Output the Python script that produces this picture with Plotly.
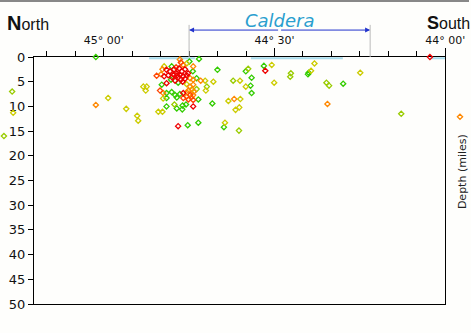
import plotly.graph_objects as go

# Earthquake hypocentres: latitude (deg N), depth (miles), colour class
lat = [45.023, 45.268, 45.265, 45.292, 45.023, 44.987, 44.934, 44.902, 44.899,
       44.721, 44.749, 44.757, 44.774, 44.767, 44.738, 44.801, 44.823, 44.828, 44.816,
       44.788, 44.779, 44.739, 44.845, 44.832, 44.823, 44.811, 44.796, 44.786, 44.777,
       44.767, 44.757, 44.747, 44.738, 44.728, 44.716, 44.803, 44.791, 44.782, 44.769,
       44.757, 44.747, 44.738, 44.830, 44.816, 44.884, 44.874, 44.877, 44.835, 44.826,
       44.816, 44.801, 44.791, 44.777, 44.767, 44.752, 44.742, 44.728, 44.757, 44.747,
       44.738, 44.767, 44.816, 44.786, 44.738, 44.752, 44.826, 44.723, 44.816, 44.793,
       44.769, 44.759, 44.770, 44.786, 44.738, 44.840, 44.828, 44.782, 44.754, 44.723,
       44.667, 44.703, 44.679, 44.698, 44.701, 44.682, 44.621, 44.601, 44.635, 44.618,
       44.600, 44.614, 44.603, 44.584, 44.577, 44.567, 44.584, 44.570, 44.567, 44.531,
       44.527, 44.508, 44.501, 44.452, 44.454, 44.400, 44.393, 44.383, 44.645, 44.648,
       44.604, 44.348, 44.340, 44.299, 44.249, 44.345, 44.129, 44.045, 43.957, 44.402,
       44.806, 44.794, 44.782, 44.771, 44.762, 44.800, 44.753, 44.774, 44.785, 44.762,
       44.756, 44.744, 44.736, 44.777]
depth = [0.0, 7.0, 11.3, 16.0, 9.7, 8.3, 10.5, 11.9, 12.9,
         0.4, 0.9, 1.3, 1.1, 1.6, 1.9, 1.9, 1.9, 2.5, 2.6,
         2.1, 2.3, 2.9, 3.8, 3.5, 3.9, 3.7, 3.6, 3.3, 3.6,
         3.9, 3.7, 4.3, 4.6, 4.3, 4.8, 4.6, 4.8, 5.2, 5.0,
         5.5, 6.0, 5.6, 5.6, 5.3, 6.0, 6.0, 6.8, 6.8, 7.3,
         7.3, 7.1, 7.7, 7.5, 7.3, 6.8, 6.6, 6.5, 8.0, 7.7,
         7.7, 8.3, 8.3, 8.2, 8.7, 8.6, 8.4, 8.6, 10.0, 9.6,
         9.8, 9.6, 10.6, 10.4, 10.0, 11.1, 11.1, 14.0, 13.8, 13.3,
         2.6, 4.8, 5.0, 6.0, 6.8, 9.4, 4.8, 4.8, 8.9, 8.5,
         8.5, 10.7, 10.2, 2.9, 2.4, 4.2, 6.0, 5.8, 7.3, 1.8,
         2.8, 1.6, 5.2, 3.3, 4.0, 3.2, 2.8, 1.3, 13.3, 14.2,
         14.9, 5.2, 5.8, 5.4, 3.2, 9.5, 11.5, 0.0, 12.1, 3.5,
         2.9, 2.5, 4.1, 2.9, 4.4, 4.1, 3.3, 4.6, 3.7, 2.5,
         7.2, 8.2, 7.0, 0.5]
cls = ["G", "YG", "Y", "YG", "O", "Y", "Y", "Y", "Y",
       "G", "G", "Y", "OR", "O", "O", "G", "Y", "O", "R",
       "OR", "R", "G", "OR", "O", "R", "R", "R", "R", "R",
       "R", "R", "O", "O", "G", "O", "G", "R", "G", "R",
       "Y", "O", "O", "G", "R", "Y", "Y", "Y", "OR", "O",
       "G", "G", "G", "G", "R", "O", "Y", "YG", "O", "OR",
       "O", "OR", "G", "G", "OR", "OR", "Y", "G", "G", "YG",
       "G", "G", "G", "G", "R", "Y", "Y", "R", "G", "G",
       "G", "Y", "Y", "YG", "Y", "G", "YG", "Y", "Y", "O",
       "Y", "Y", "Y", "G", "YG", "G", "Y", "G", "G", "G",
       "R", "Y", "Y", "YG", "YG", "G", "Y", "Y", "Y", "G",
       "YG", "YG", "YG", "G", "Y", "O", "YG", "R", "O", "G",
       "R", "R", "R", "R", "R", "R", "R", "R", "R", "R",
       "O", "O", "O", "O"]

class_order = ["G", "YG", "Y", "O", "OR", "R"]
class_colors = {"G": "#33cc00", "YG": "#99cc00", "Y": "#cccc00",
                "O": "#ff8800", "OR": "#ff4400", "R": "#ee0000"}

# Lake surface segments (latitude) drawn at depth 0
lake_lat = [44.867, 44.733, None, 44.569, 44.300, None, 44.045, 44.0]
lake_depth = [0.25, 0.25, None, 0.25, 0.25, None, 0.25, 0.25]

caldera_north = 44.75
caldera_south = 44.22

x_tickvals = [45.0, 44.5, 44.0]
x_ticktext = ["45° 00'", "44° 30'", "44° 00'"]
x_minor = [45 + 10 / 60 - i * 5 / 60 for i in range(15)]
y_tickvals = list(range(0, 55, 5))

W, H = 471, 333
x_range = [45.204, 44.0]
d0, d1 = 34 / W, 445.3 / W
slope = (x_range[0] - x_range[1]) / (d1 - d0)
x2_range = [x_range[0] + d0 * slope, x_range[1] - (1 - d1) * slope]

fig = go.Figure()
fig.add_trace(go.Scatter(x=lake_lat, y=lake_depth, mode="lines",
                         line=dict(color="#a8dcec", width=2),
                         hoverinfo="skip", showlegend=False, cliponaxis=False))
for c in class_order:
    xs = [la for la, k in zip(lat, cls) if k == c]
    ys = [d for d, k in zip(depth, cls) if k == c]
    fig.add_trace(go.Scatter(x=xs, y=ys, mode="markers", cliponaxis=False,
                             xaxis="x2", yaxis="y2",
                             marker=dict(symbol="diamond-open", size=4,
                                         color=class_colors[c],
                                         line=dict(width=1.3, color=class_colors[c])),
                             showlegend=False))

font = "DejaVu Sans, Verdana, sans-serif"
head_font = "Liberation Sans, Arial, sans-serif"
fig.update_layout(
    width=W, height=H,
    margin=dict(l=0, r=0, t=57, b=29, autoexpand=False),
    paper_bgcolor="#fefefc", plot_bgcolor="rgba(0,0,0,0)",
    font=dict(family=font, color="#111111"),
    xaxis=dict(range=x_range, domain=[d0, d1], side="top", showgrid=False,
               zeroline=False, automargin=False,
               tickmode="array", tickvals=x_tickvals, ticktext=x_ticktext,
               ticks="outside", ticklen=8, tickwidth=1, tickcolor="black",
               tickfont=dict(size=11, color="#111111"),
               minor=dict(tickmode="array", tickvals=x_minor, ticks="outside",
                          ticklen=5, tickcolor="black"),
               showline=True, linecolor="black", linewidth=1, mirror=True),
    yaxis=dict(range=[50, 0], showgrid=False, zeroline=False, automargin=False,
               tickmode="array", tickvals=y_tickvals,
               ticks="outside", ticklen=5, tickcolor="black",
               tickfont=dict(size=13, color="#111111"),
               showline=True, linecolor="black", linewidth=1, mirror=True),
    xaxis2=dict(range=x2_range, domain=[0, 1], anchor="y2", visible=False,
                showgrid=False, zeroline=False),
    yaxis2=dict(range=[50, 0], domain=[0, 1], anchor="x2", visible=False,
                showgrid=False, zeroline=False),
)

# Caldera boundary markers and arrow
for la in (caldera_north, caldera_south):
    fig.add_shape(type="line", xref="x", yref="paper", x0=la, x1=la,
                  y0=1.0, y1=1.13, line=dict(color="#bbbbbb", width=1))
mid = (caldera_north + caldera_south) / 2
for end in (caldera_north, caldera_south):
    fig.add_annotation(x=end, y=1.109, xref="x", yref="paper", ax=mid, ay=0,
                       axref="x", ayref="pixel", showarrow=True, arrowhead=2,
                       arrowsize=1, arrowwidth=1, arrowcolor="#2233cc", text="")
fig.add_annotation(x=mid, y=1.146, xref="x", yref="paper", xanchor="center",
                   yanchor="middle", showarrow=False,
                   text="<i>Caldera</i>", font=dict(size=18, color="#2a9fcf", family=font))

fig.add_annotation(x=5 / W, y=1.138, xref="paper", yref="paper", xanchor="left",
                   yanchor="middle", showarrow=False,
                   text="<span style='font-size:20px'><b>N</b></span>orth",
                   font=dict(size=16, color="#111111", family=head_font))
fig.add_annotation(x=425 / W, y=1.136, xref="paper", yref="paper", xanchor="left",
                   yanchor="middle", showarrow=False,
                   text="<span style='font-size:18px'><b>S</b></span>outh",
                   font=dict(size=16, color="#111111", family=head_font))
fig.add_annotation(x=462 / W, y=0.534, xref="paper", yref="paper", xanchor="center",
                   yanchor="middle", showarrow=False,
                   text="Depth (miles)", textangle=-90,
                   font=dict(size=11, color="#222222", family=font))
fig.add_shape(type="line", xref="paper", yref="paper", x0=0, x1=469 / W,
              y0=1.2267, y1=1.2267, line=dict(color="#888888", width=2))

fig.write_html("out.html")
